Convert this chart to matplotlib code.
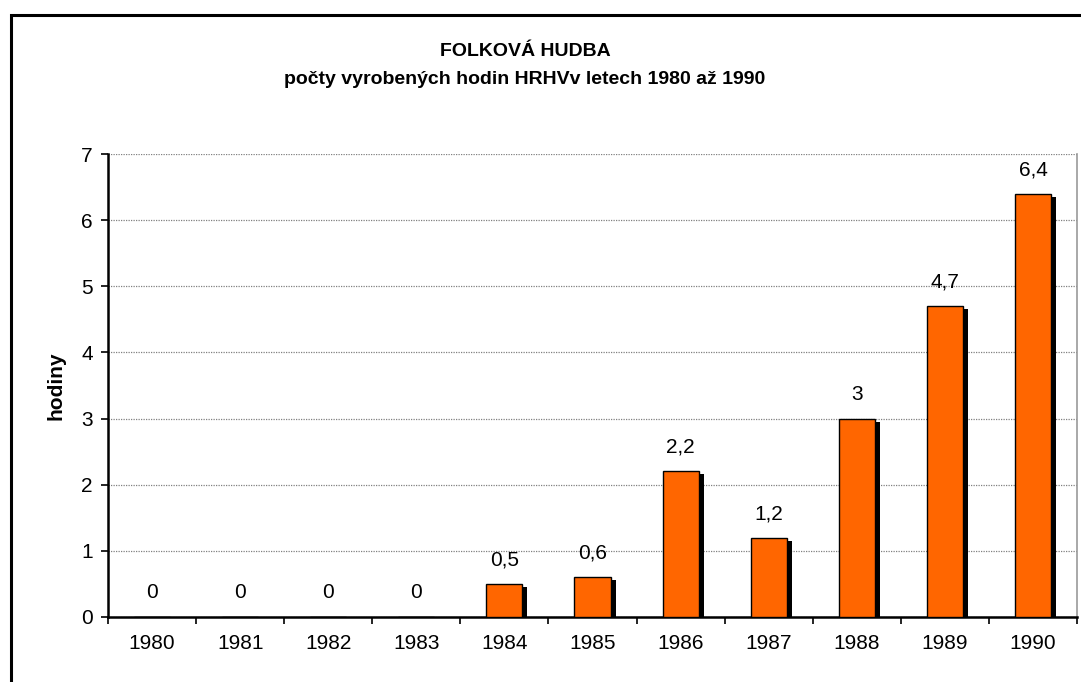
import matplotlib.pyplot as plt
from matplotlib.patches import Rectangle
import numpy as np

plt.rcParams['font.family'] = ['Liberation Sans', 'DejaVu Sans']

# Hours produced per year
years = ['1980', '1981', '1982', '1983', '1984', '1985',
         '1986', '1987', '1988', '1989', '1990']
hours = [0, 0, 0, 0, 0.5, 0.6, 2.2, 1.2, 3, 4.7, 6.4]
yticks = [0, 1, 2, 3, 4, 5, 6, 7]

bar_color = '#ff6600'
W, H = 1081, 682

fig = plt.figure(figsize=(W / 100, H / 100), dpi=100)
ax = fig.add_axes([108 / W, 1 - 617 / H, (1077 - 108) / W, (617 - 154) / H])

x = np.arange(len(years))
width = 0.41

# data units per pixel, for the drop shadow offset
px_x = (len(years)) / (1077 - 108)
px_y = 7 / (617 - 154)

shadow_h = [max(v - 3 * px_y, 0) for v in hours]
ax.bar(x + 5 * px_x, shadow_h, width, color='black', zorder=2)
ax.bar(x, hours, width, color=bar_color, edgecolor='black', linewidth=1.0, zorder=3)

for xi, v in zip(x, hours):
    label = f'{v:g}'.replace('.', ',')
    ax.annotate(label, (xi, v), xytext=(0, 24), textcoords='offset pixels',
                ha='center', va='center', fontsize=15, color='black')

ax.set_xlim(-0.5, len(years) - 0.5)
ax.set_ylim(0, 7)
ax.set_yticks(yticks)
ax.set_yticklabels([str(t) for t in yticks], fontsize=15)

# boundary ticks between categories, labels at centres
ax.set_xticks(np.arange(-0.5, len(years)), minor=False)
ax.set_xticklabels([])
ax.set_xticks(x, minor=True)
ax.set_xticklabels(years, minor=True, fontsize=15)
ax.tick_params(axis='x', which='major', direction='out', length=5, width=1.2, color='black')
ax.tick_params(axis='x', which='minor', length=0, pad=12)
ax.tick_params(axis='y', direction='out', length=5, width=1.2, pad=6)

ax.yaxis.grid(True, color='#808080', linestyle=(0, (1, 1)), linewidth=0.9)
ax.set_axisbelow(True)

for side in ['left', 'bottom']:
    ax.spines[side].set_linewidth(1.8)
    ax.spines[side].set_color('black')
ax.spines['right'].set_color('#999999')
ax.spines['right'].set_linewidth(1.2)
ax.spines['top'].set_visible(False)

ax.set_ylabel('hodiny', fontsize=15, fontweight='bold', labelpad=11)

fig.text(525 / W, 1 - 51 / H, 'FOLKOVÁ HUDBA', ha='center', va='center',
         fontsize=14, fontweight='bold')
fig.text(525 / W, 1 - 79 / H, 'počty vyrobených hodin HRHVv letech 1980 až 1990',
         ha='center', va='center', fontsize=14, fontweight='bold')

# chart frame, running off the right and bottom edges
frame = Rectangle((11 / W, -0.1), 1.2, 1.1 - 15 / H, transform=fig.transFigure,
                  fill=False, edgecolor='black', linewidth=2.2)
fig.patches.append(frame)

fig.savefig('out.png', dpi=100)
